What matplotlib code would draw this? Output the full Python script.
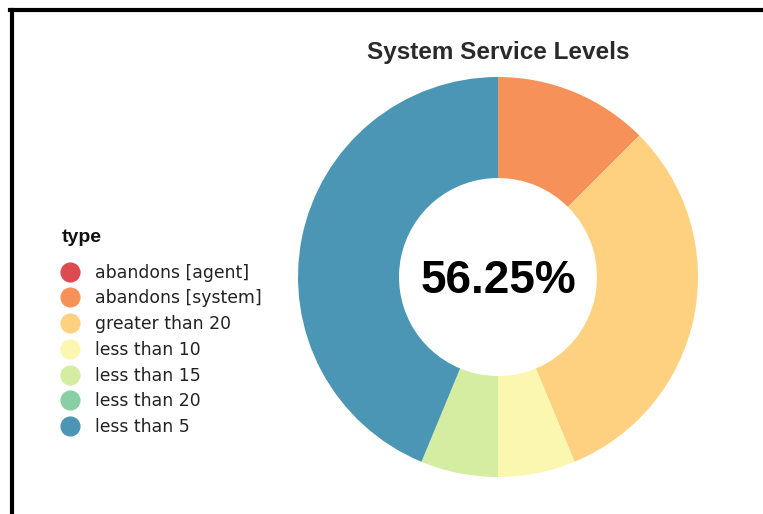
import matplotlib.pyplot as plt
from matplotlib.lines import Line2D

# service level counts per type
types = ['abandons [agent]', 'abandons [system]', 'greater than 20',
         'less than 10', 'less than 15', 'less than 20', 'less than 5']
counts = [0, 2, 5, 1, 1, 0, 7]
colors = ['#dd4b50', '#f69259', '#fed181', '#fbf7b0', '#d4eda0', '#88cfa4', '#4b96b4']
center_label = '56.25%'

plt.rcParams['font.family'] = ['Liberation Sans', 'DejaVu Sans']

fig = plt.figure(figsize=(7.63, 5.14), dpi=100)

# frame lines (top and left)
fig.add_artist(Line2D([10 / 763, 1], [1 - 9.5 / 514, 1 - 9.5 / 514], color='black', lw=3))
fig.add_artist(Line2D([12 / 763, 12 / 763], [0, 1 - 9.5 / 514], color='black', lw=3))

ax = fig.add_axes([298 / 763, 37 / 514, 400 / 763, 400 / 514])
ax.pie(counts, colors=colors, startangle=90, counterclock=False, radius=1,
       wedgeprops=dict(width=0.505, linewidth=0))
ax.set_xlim(-1, 1)
ax.set_ylim(-1, 1)
ax.set_aspect('equal')
ax.axis('off')
ax.text(0, -0.02, center_label, ha='center', va='center', fontsize=33,
        fontweight='bold', color='black')

fig.text(498 / 763, 1 - 52 / 514, 'System Service Levels', ha='center', va='center',
         fontsize=17.5, fontweight='bold', color='#2a2a2a')

# legend title drawn separately
fig.text(62 / 763, 1 - 237 / 514, 'type', ha='left', va='center',
         fontsize=14, fontweight='bold', color='#111111')

handles = [Line2D([], [], marker='o', linestyle='', markersize=13.5,
                  markerfacecolor=c, markeredgecolor=c) for c in colors]
leg = fig.legend(handles, types, loc='upper left',
                 bbox_to_anchor=(51 / 763, 1 - 255 / 514), frameon=False,
                 prop={'family': 'DejaVu Sans', 'size': 12.4},
                 handletextpad=0.85, labelspacing=0.45, handlelength=1.2,
                 borderpad=0)
for t in leg.get_texts():
    t.set_color('#222222')

fig.savefig('out.png', dpi=100)
